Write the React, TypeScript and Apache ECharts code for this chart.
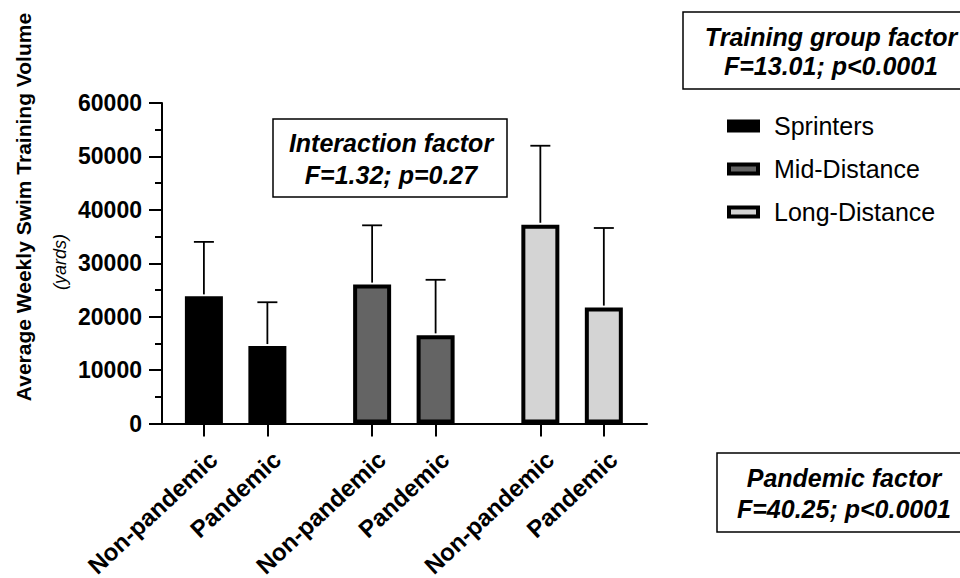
import React, { useEffect, useRef } from "react";
import * as echarts from "echarts";

// ---- data ----
const trainingGroups = ["Sprinters", "Mid-Distance", "Long-Distance"];
const periods = ["Non-pandemic", "Pandemic"];
const sprintersMean = [23800, 14500];
const sprintersSD = [10200, 8200];
const midMean = [26000, 16500];
const midSD = [11100, 10400];
const longMean = [37200, 21700];
const longSD = [14800, 14900];
const yTicks = { min: 0, max: 60000, interval: 10000 };

const groupMeans = [sprintersMean, midMean, longMean];
const groupSDs = [sprintersSD, midSD, longSD];
const groupFills = ["#000000", "#646464", "#d4d4d4"];

const GROUP_STEP = 2.65; // distance between group starts, in bar slots

const FONT = "'Liberation Sans', Arial, Helvetica, sans-serif";

const xPos = (g: number, p: number) => +(g * GROUP_STEP + p).toFixed(3);
const allPositions: number[] = [];
const allLabels: string[] = [];
trainingGroups.forEach((_, g) =>
  periods.forEach((per, p) => {
    allPositions.push(xPos(g, p));
    allLabels.push(per);
  })
);

export default function App() {
  const ref = useRef<HTMLDivElement>(null);
  useEffect(() => {
    if (!ref.current) return;
    const chart = echarts.init(ref.current, null, { renderer: "svg" });

    const barSeries = trainingGroups.map((name, g) => ({
      name,
      type: "bar",
      barWidth: 38,
      barGap: "-100%",
      itemStyle: { color: groupFills[g], borderColor: "#000", borderWidth: 4 },
      data: periods.map((_, p) => [xPos(g, p), groupMeans[g][p]]),
      z: 2,
    }));

    const errData: number[][] = [];
    trainingGroups.forEach((_, g) =>
      periods.forEach((_, p) => {
        errData.push([xPos(g, p), groupMeans[g][p], groupMeans[g][p] + groupSDs[g][p]]);
      })
    );

    const errorSeries = {
      type: "custom",
      name: "error",
      z: 3,
      renderItem: (params: any, api: any) => {
        const x = api.value(0);
        const base = api.coord([x, api.value(1)]);
        const top = api.coord([x, api.value(2)]);
        const style = { stroke: "#000", lineWidth: 1.8 };
        return {
          type: "group",
          children: [
            { type: "line", shape: { x1: base[0], y1: base[1] - 2, x2: top[0], y2: top[1] }, style },
            { type: "line", shape: { x1: top[0] - 10, y1: top[1], x2: top[0] + 10, y2: top[1] }, style },
          ],
        };
      },
      encode: { x: 0, y: [1, 2] },
      data: errData,
    };

    const boxText = (x: number, y: number, txt: string, lh: number) => ({
      type: "text",
      x,
      y,
      style: {
        text: txt,
        font: `italic bold 25px ${FONT}`,
        fill: "#000",
        align: "center",
        verticalAlign: "middle",
        lineHeight: lh,
      },
    });

    chart.setOption({
      animation: false,
      backgroundColor: "#fff",
      grid: {
        left: 162,
        right: 313,
        top: 103,
        bottom: 154.5,
        containLabel: false,
        outerBoundsMode: "none",
      },
      legend: {
        orient: "vertical",
        left: 722,
        top: 108,
        itemWidth: 29,
        itemHeight: 9,
        itemGap: 17,
        selectedMode: false,
        textStyle: { fontFamily: FONT, fontSize: 25, color: "#000", lineHeight: 26, padding: [0, 0, 0, 11] },
        data: trainingGroups.map((name, g) => ({
          name,
          icon: "rect",
          itemStyle: { color: groupFills[g], borderColor: "#000", borderWidth: 4 },
        })),
      },
      xAxis: {
        type: "value",
        min: -0.66,
        max: 6.98,
        splitLine: { show: false },
        axisLine: { show: true, onZero: false, lineStyle: { color: "#000", width: 2 } },
        axisTick: {
          show: true,
          customValues: allPositions,
          length: 13,
          lineStyle: { color: "#000", width: 2 },
        },
        axisLabel: {
          customValues: allPositions,
          rotate: 43,
          margin: 22,
          verticalAlign: "top",
          lineHeight: 28,
          fontFamily: FONT,
          fontWeight: "bold",
          fontSize: 24,
          color: "#000",
          formatter: (v: number) => {
            let best = 0;
            allPositions.forEach((p, i) => {
              if (Math.abs(p - v) < Math.abs(allPositions[best] - v)) best = i;
            });
            return allLabels[best];
          },
        },
      },
      yAxis: {
        type: "value",
        min: yTicks.min,
        max: yTicks.max,
        interval: yTicks.interval,
        splitLine: { show: false },
        axisLine: { show: true, onZero: false, lineStyle: { color: "#000", width: 2 } },
        axisTick: { show: true, length: 13, lineStyle: { color: "#000", width: 2 } },
        minorTick: { show: true, splitNumber: 2, length: 7, lineStyle: { color: "#000", width: 2 } },
        axisLabel: {
          margin: 20,
          fontFamily: FONT,
          fontWeight: "bold",
          fontSize: 23,
          color: "#000",
          formatter: (v: number) => String(v),
        },
      },
      graphic: [
        {
          type: "text",
          x: 23,
          y: 207,
          rotation: Math.PI / 2,
          style: {
            text: "Average Weekly Swim Training Volume",
            font: `bold 21px ${FONT}`,
            fill: "#000",
            align: "center",
            verticalAlign: "middle",
          },
        },
        {
          type: "text",
          x: 60,
          y: 262,
          rotation: Math.PI / 2,
          style: {
            text: "(yards)",
            font: `italic 18px ${FONT}`,
            fill: "#000",
            align: "center",
            verticalAlign: "middle",
          },
        },
        { type: "rect", shape: { x: 273, y: 119, width: 234, height: 78 }, style: { fill: "#fff", stroke: "#000", lineWidth: 1.5 }, z: 10 },
        { ...boxText(391, 159, "Interaction factor\nF=1.32; p=0.27", 32), z: 11 },
        { type: "rect", shape: { x: 683, y: 12, width: 300, height: 77 }, style: { fill: "#fff", stroke: "#000", lineWidth: 1.5 }, z: 10 },
        { ...boxText(831, 51, "Training group factor\nF=13.01; p<0.0001", 29), z: 11 },
        { type: "rect", shape: { x: 717, y: 453, width: 260, height: 79 }, style: { fill: "#fff", stroke: "#000", lineWidth: 1.5 }, z: 10 },
        { ...boxText(844, 493, "Pandemic factor\nF=40.25; p<0.0001", 31), z: 11 },
      ],
      series: [...barSeries, errorSeries],
    });
    return () => chart.dispose();
  }, []);
  return <div ref={ref} style={{ width: 960, height: 578, position: "fixed", left: 0, top: 0 }} />;
}
